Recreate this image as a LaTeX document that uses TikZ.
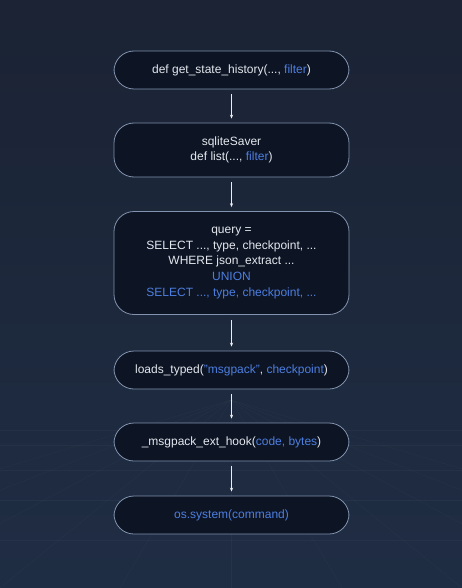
\documentclass[tikz,border=0pt]{standalone}
\usepackage{fontspec}
\setmainfont{Liberation Sans}
\usepackage{xcolor}
\usetikzlibrary{arrows.meta, positioning}

\definecolor{bgtop}{HTML}{1B2334}
\definecolor{bgbot}{HTML}{1F2D44}
\definecolor{boxfill}{HTML}{0D1424}
\definecolor{boxline}{HTML}{8193AE}
\definecolor{txt}{HTML}{E4E8EE}
\definecolor{hl}{HTML}{4D7FE0}
\newcommand{\hlt}[1]{\textcolor{hl}{#1}}

\begin{document}
\begin{tikzpicture}[x=1pt, y=-1pt,
  stage/.style={rectangle, draw=boxline, line width=0.8pt, fill=boxfill,
                rounded corners=20pt, minimum width=235pt, minimum height=38pt,
                align=center, text=txt, font=\fontsize{12}{15.7}\selectfont},
  flow/.style={-{Stealth[length=4pt,width=3.2pt]}, draw=txt!75, line width=0.6pt,
               shorten <=5pt, shorten >=4pt}
]
% background
\fill[top color=bgtop, bottom color=bgbot] (0,0) rectangle (462,588);
\useasboundingbox (0,0) rectangle (462,588);
% faint floor grid
\foreach \yy in {430,445,470,500,540}
  \draw[white, opacity=0.03] (0,\yy) -- (462,\yy);
\foreach \xx in {-400,-250,-120,0,120,231,342,462,582,712,862}
  \draw[white, opacity=0.03] (231,400) -- (\xx,588);

\node[stage]                        (hist)  at (231.5,70)  {def get\_state\_history(..., \hlt{filter})};
\node[stage, minimum height=54pt]   (saver) at (231.5,150) {sqliteSaver\\def list(..., \hlt{filter})};
\node[stage, minimum height=103pt]  (query) at (231.5,263) {query =\\SELECT ..., type, checkpoint, ...\\WHERE json\_extract ...\\\hlt{UNION}\\\hlt{SELECT ..., type, checkpoint, ...}};
\node[stage]                        (load)  at (231.5,370) {loads\_typed(\hlt{"msgpack"}, \hlt{checkpoint})};
\node[stage]                        (hook)  at (231.5,442) {\_msgpack\_ext\_hook(\hlt{code, bytes})};
\node[stage]                        (sys)   at (231.5,515) {\hlt{os.system(command)}};

\draw[flow] (hist)  -- (saver);
\draw[flow] (saver) -- (query);
\draw[flow] (query) -- (load);
\draw[flow] (load)  -- (hook);
\draw[flow] (hook)  -- (sys);
\end{tikzpicture}
\end{document}
